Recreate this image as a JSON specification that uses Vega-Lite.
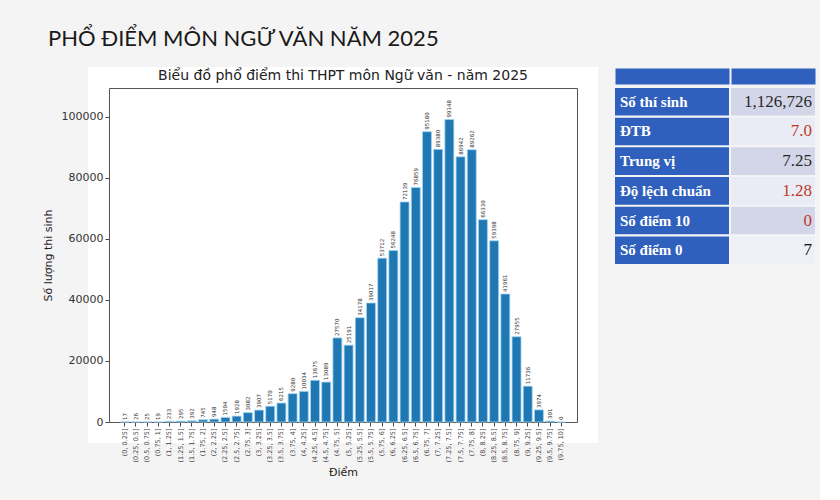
{
  "$schema": "https://vega.github.io/schema/vega-lite/v6.json",
  "background": "#f4f4f5",
  "padding": {"left": 21, "top": 28, "right": 5, "bottom": 5},
  "title": {
    "text": "PHỔ ĐIỂM MÔN NGỮ VĂN NĂM 2025",
    "anchor": "start",
    "font": "Lato",
    "fontSize": 22,
    "fontWeight": "normal",
    "color": "#1a1a1a",
    "dx": 27,
    "offset": -3
  },
  "datasets": {
    "scores": [
      {"bin": "(0, 0.25]", "count": 17},
      {"bin": "(0.25, 0.5]", "count": 26},
      {"bin": "(0.5, 0.75]", "count": 25},
      {"bin": "(0.75, 1]", "count": 19},
      {"bin": "(1, 1.25]", "count": 233},
      {"bin": "(1.25, 1.5]", "count": 295},
      {"bin": "(1.5, 1.75]", "count": 392},
      {"bin": "(1.75, 2]", "count": 745},
      {"bin": "(2, 2.25]", "count": 948},
      {"bin": "(2.25, 2.5]", "count": 1504},
      {"bin": "(2.5, 2.75]", "count": 1928},
      {"bin": "(2.75, 3]", "count": 3082},
      {"bin": "(3, 3.25]", "count": 3907},
      {"bin": "(3.25, 3.5]", "count": 5170},
      {"bin": "(3.5, 3.75]", "count": 6215},
      {"bin": "(3.75, 4]", "count": 9280},
      {"bin": "(4, 4.25]", "count": 10034},
      {"bin": "(4.25, 4.5]", "count": 13675},
      {"bin": "(4.5, 4.75]", "count": 13089},
      {"bin": "(4.75, 5]", "count": 27570},
      {"bin": "(5, 5.25]", "count": 25191},
      {"bin": "(5.25, 5.5]", "count": 34178},
      {"bin": "(5.5, 5.75]", "count": 39017},
      {"bin": "(5.75, 6]", "count": 53712},
      {"bin": "(6, 6.25]", "count": 56248},
      {"bin": "(6.25, 6.5]", "count": 72139},
      {"bin": "(6.5, 6.75]", "count": 76859},
      {"bin": "(6.75, 7]", "count": 95180},
      {"bin": "(7, 7.25]", "count": 89380},
      {"bin": "(7.25, 7.5]", "count": 99148},
      {"bin": "(7.5, 7.75]", "count": 86942},
      {"bin": "(7.75, 8]", "count": 89262},
      {"bin": "(8, 8.25]", "count": 66330},
      {"bin": "(8.25, 8.5]", "count": 59398},
      {"bin": "(8.5, 8.75]", "count": 41961},
      {"bin": "(8.75, 9]", "count": 27955},
      {"bin": "(9, 9.25]", "count": 11736},
      {"bin": "(9.25, 9.5]", "count": 3974},
      {"bin": "(9.5, 9.75]", "count": 301},
      {"bin": "(9.75, 10]", "count": 0}
    ],
    "stats": [
      {"label": "Số thí sinh", "value": "1,126,726"},
      {"label": "ĐTB", "value": "7.0"},
      {"label": "Trung vị", "value": "7.25"},
      {"label": "Độ lệch chuẩn", "value": "1.28"},
      {"label": "Số điểm 10", "value": "0"},
      {"label": "Số điểm 0", "value": "7"}
    ]
  },
  "hconcat": [
    {
      "vconcat": [
        {
          "width": 468,
          "height": 334,
          "title": {
            "text": "Biểu đồ phổ điểm thi THPT môn Ngữ văn - năm 2025",
            "font": "DejaVu Sans",
            "fontSize": 14,
            "fontWeight": "normal",
            "color": "#222222",
            "offset": 5
          },
          "data": {"name": "scores"},
          "view": {"fill": "white", "stroke": "white", "strokeWidth": 42},
          "layer": [
            {
              "mark": {"type": "bar", "color": "#1f77b4", "stroke": "#9fd4f0", "strokeWidth": 0.8},
              "encoding": {
                "x": {
                  "field": "bin",
                  "type": "nominal",
                  "sort": null,
                  "scale": {"paddingInner": 0.2, "paddingOuter": 1.99},
                  "axis": {
                    "title": "Điểm",
                    "labelAngle": 270,
                    "labelFontSize": 6.5,
                    "labelColor": "#444444",
                    "tickColor": "#444444",
                    "domainColor": "#555555",
                    "titleFontSize": 11,
                    "titleFontWeight": "normal",
                    "titleColor": "#222222",
                    "titlePadding": 4
                  }
                },
                "y": {
                  "field": "count",
                  "type": "quantitative",
                  "scale": {"domain": [0, 109500], "nice": false},
                  "axis": {
                    "title": "Số lượng thi sinh",
                    "values": [0, 20000, 40000, 60000, 80000, 100000],
                    "format": "d",
                    "grid": false,
                    "labelFontSize": 11,
                    "labelColor": "#333333",
                    "tickColor": "#444444",
                    "domainColor": "#555555",
                    "titleFontSize": 11,
                    "titleFontWeight": "normal",
                    "titleColor": "#222222",
                    "titlePadding": 8
                  }
                }
              }
            },
            {
              "mark": {"type": "text", "angle": 270, "align": "left", "baseline": "middle", "dx": 2, "fontSize": 5.5, "color": "#333333"},
              "encoding": {
                "x": {
                  "field": "bin",
                  "type": "nominal",
                  "sort": null,
                  "axis": {"orient": "top", "labels": false, "ticks": false, "title": null, "domainColor": "#555555"}
                },
                "y": {
                  "field": "count",
                  "type": "quantitative",
                  "axis": {"orient": "right", "labels": false, "ticks": false, "grid": false, "title": null, "domainColor": "#555555"}
                },
                "text": {"field": "count", "type": "quantitative", "format": "d"}
              }
            }
          ],
          "resolve": {"axis": {"x": "independent", "y": "independent"}}
        }
      ]
    },
    {
      "hconcat": [
        {
          "width": 114,
          "height": 176,
          "data": {"name": "stats"},
          "layer": [
            {
              "mark": {"type": "rect", "color": "#3060bd"},
              "encoding": {
                "x": {
                  "datum": 0,
                  "type": "quantitative",
                  "scale": {"domain": [0, 1]},
                  "axis": {"orient": "top", "labels": false, "ticks": false, "grid": false, "title": null, "domainWidth": 16, "domainColor": "#3060bd", "offset": 12}
                },
                "x2": {"datum": 1},
                "y": {"field": "label", "type": "nominal", "sort": null, "scale": {"paddingInner": 0.07, "paddingOuter": 0}, "axis": null}
              }
            },
            {
              "mark": {"type": "text", "align": "left", "baseline": "middle", "dx": 5, "font": "Liberation Serif", "fontSize": 15, "fontWeight": "bold", "color": "white"},
              "encoding": {
                "x": {"datum": 0, "type": "quantitative"},
                "y": {"field": "label", "type": "nominal", "sort": null},
                "text": {"field": "label"}
              }
            }
          ]
        },
        {
          "width": 84,
          "height": 176,
          "data": {"name": "stats"},
          "layer": [
            {
              "mark": {"type": "rect"},
              "encoding": {
                "x": {
                  "datum": 0,
                  "type": "quantitative",
                  "scale": {"domain": [0, 1]},
                  "axis": {"orient": "top", "labels": false, "ticks": false, "grid": false, "title": null, "domainWidth": 16, "domainColor": "#3060bd", "offset": 12}
                },
                "x2": {"datum": 1},
                "y": {"field": "label", "type": "nominal", "sort": null, "scale": {"paddingInner": 0.07, "paddingOuter": 0}, "axis": null},
                "fill": {
                  "field": "label",
                  "type": "nominal",
                  "sort": null,
                  "scale": {
                    "domain": ["Số thí sinh", "ĐTB", "Trung vị", "Độ lệch chuẩn", "Số điểm 10", "Số điểm 0"],
                    "range": ["#d3d6e8", "#e9ebf5", "#d3d6e8", "#e9ebf5", "#d3d6e8", "#eef0f7"]
                  },
                  "legend": null
                }
              }
            },
            {
              "mark": {"type": "text", "align": "right", "baseline": "middle", "dx": -3, "font": "Liberation Serif", "fontSize": 17},
              "encoding": {
                "x": {"datum": 1, "type": "quantitative"},
                "y": {"field": "label", "type": "nominal", "sort": null},
                "text": {"field": "value"},
                "color": {
                  "field": "label",
                  "type": "nominal",
                  "sort": null,
                  "scale": {
                    "domain": ["Số thí sinh", "ĐTB", "Trung vị", "Độ lệch chuẩn", "Số điểm 10", "Số điểm 0"],
                    "range": ["#2a2a2a", "#c0392b", "#2a2a2a", "#c0392b", "#c0392b", "#111111"]
                  },
                  "legend": null
                }
              }
            }
          ],
          "resolve": {"scale": {"color": "independent"}}
        }
      ],
      "spacing": 2,
      "resolve": {"scale": {"fill": "independent", "color": "independent"}}
    }
  ],
  "spacing": 17,
  "config": {
    "font": "DejaVu Sans",
    "view": {"stroke": null},
    "axis": {"tickSize": 4, "labelPadding": 2}
  }
}
